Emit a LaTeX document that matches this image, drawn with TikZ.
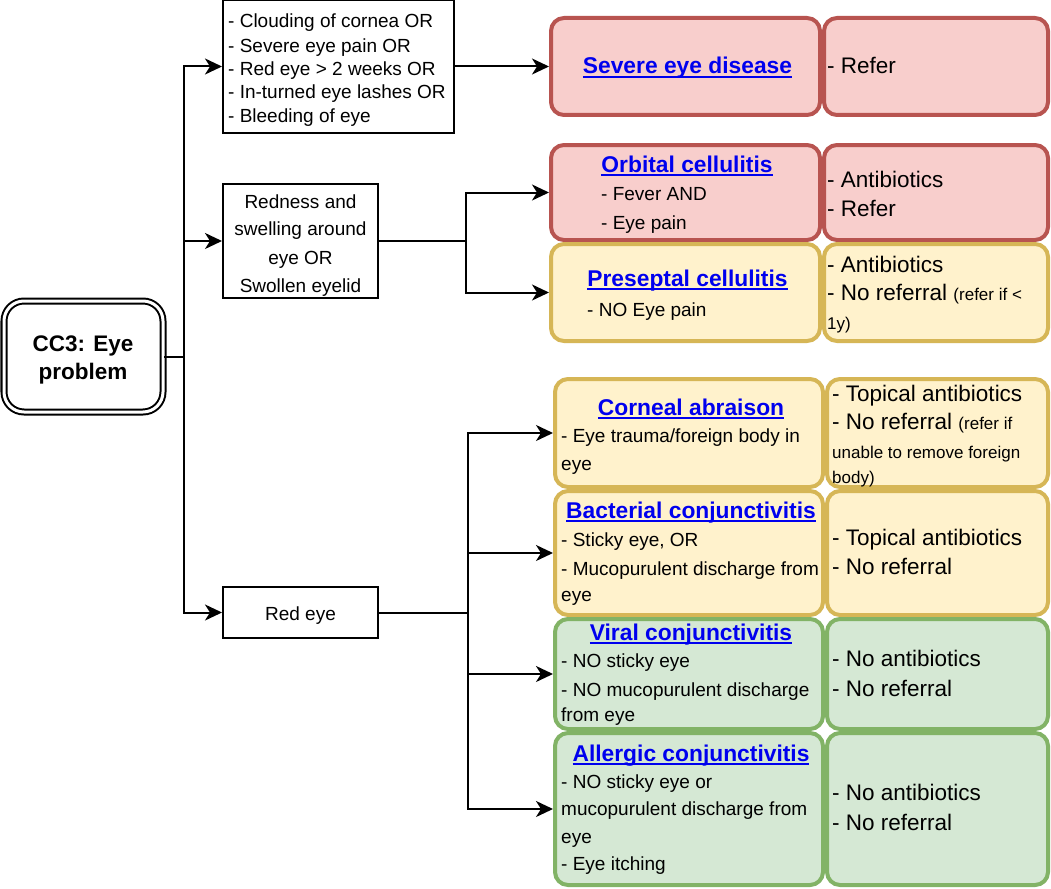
\documentclass[tikz,border=0pt]{standalone}
\usepackage{fontspec}
\setmainfont{Liberation Sans}
\usetikzlibrary{arrows.meta,fit}

\definecolor{redF}{HTML}{F8CECC}
\definecolor{redS}{HTML}{B85450}
\definecolor{yelF}{HTML}{FFF2CC}
\definecolor{yelS}{HTML}{D6B656}
\definecolor{grnF}{HTML}{D5E8D4}
\definecolor{grnS}{HTML}{82B366}
\definecolor{linkblue}{HTML}{0000EE}

% underlined link-style heading
\newcommand\lnk[1]{{\setbox0\hbox{#1}\rlap{\rule[-3.7pt]{\wd0}{2pt}}\box0}}
\newcommand\smalltxt{\fontsize{17}{20}\selectfont}

\tikzset{
  cellbox/.style={draw, line width=4pt, rounded corners=13pt, inner sep=0pt},
  redc/.style={cellbox, draw=redS, fill=redF},
  yelc/.style={cellbox, draw=yelS, fill=yelF},
  grnc/.style={cellbox, draw=grnS, fill=grnF},
  plainbox/.style={draw, line width=2pt, inner sep=0pt, fill=white},
  conn/.style={line width=2pt},
  arr/.style={conn, -{Stealth[length=17pt,width=16pt,inset=5pt]}},
  ttl/.style={font=\fontsize{22.8}{27}\selectfont\bfseries, text=linkblue, inner sep=0pt, anchor=base},
  body/.style={font=\fontsize{19}{23}\selectfont, inner sep=0pt, anchor=base west},
  cbody/.style={font=\fontsize{19}{23}\selectfont, inner sep=0pt, anchor=base},
  rbody/.style={font=\fontsize{22.5}{27}\selectfont, inner sep=0pt, anchor=base west},
}

\begin{document}
\begin{tikzpicture}[x=1pt, y=-1pt]
\useasboundingbox[fill=white] (0,0) rectangle (1051,888);

% ---- start node ----
\node[draw, double, line width=2pt, double distance=3pt, rounded corners=20pt,
      inner sep=0pt, fill=white, fit={(4,301) (163,412)}] (cc3) {};
\node[font=\fontsize{22.5}{27}\selectfont\bfseries, inner sep=0pt, anchor=base] (cc3a) at (83,351) {CC3: Eye};
\node[font=\fontsize{22.5}{27}\selectfont\bfseries, inner sep=0pt, anchor=base] (cc3b) at (83,379) {problem};

% ---- criteria boxes ----
\node[plainbox, fit={(223,0) (454,133)}] (crit1) {};
\node[body] (c1a) at (228,28) {- Clouding of cornea OR};
\node[body] (c1b) at (228,53) {- Severe eye pain OR};
\node[body] (c1c) at (228,76) {- Red eye > 2 weeks OR};
\node[body] (c1d) at (228,99) {- In-turned eye lashes OR};
\node[body] (c1e) at (228,122) {- Bleeding of eye};

\node[plainbox, fit={(223,184) (378,298)}] (crit2) {};
\node[cbody] (c2a) at (300.5,208) {Redness and};
\node[cbody] (c2b) at (300.5,235) {swelling around};
\node[cbody] (c2c) at (300.5,264) {eye OR};
\node[cbody] (c2d) at (300.5,292) {Swollen eyelid};

\node[plainbox, fit={(223,587) (378,638)}] (crit3) {};
\node[cbody] (c3a) at (300.5,620) {Red eye};

% ---- classification cells ----
\node[redc, fit={(551,18) (820,115)}] (sevL) {};
\node[redc, fit={(824,18) (1048,115)}] (sevR) {};
\node[ttl] (sevT) at (687.5,74) {\lnk{Severe eye disease}};
\node[rbody] (sevR1) at (827,74) {- Refer};

\node[redc, fit={(551,145) (820,240)}] (orbL) {};
\node[redc, fit={(824,145) (1048,240)}] (orbR) {};
\node[ttl] (orbT) at (687,172.5) {\lnk{Orbital cellulitis}};
\node[body] (orb1) at (601,200) {- Fever AND};
\node[body] (orb2) at (601,229) {- Eye pain};
\node[rbody] (orbR1) at (827,187) {- Antibiotics};
\node[rbody] (orbR2) at (827,216) {- Refer};

\node[yelc, fit={(551,244) (820,341)}] (preL) {};
\node[yelc, fit={(824,244) (1048,341)}] (preR) {};
\node[ttl] (preT) at (687.5,286.5) {\lnk{Preseptal cellulitis}};
\node[body] (pre1) at (587,316) {- NO Eye pain};
\node[rbody] (preR1) at (827,272.5) {- Antibiotics};
\node[rbody] (preR2) at (827,300) {- No referral {\smalltxt(refer if <}};
\node[rbody] (preR3) at (827,329) {\smalltxt 1y)};

\node[yelc, fit={(555,379) (823,487)}] (corL) {};
\node[yelc, fit={(827,379) (1048,487)}] (corR) {};
\node[ttl] (corT) at (691,415) {\lnk{Corneal abraison}};
\node[body] (cor1) at (561,442.5) {- Eye trauma/foreign body in};
\node[body] (cor2) at (561,470) {eye};
\node[rbody] (corR1) at (832,401.5) {- Topical antibiotics};
\node[rbody] (corR2) at (832,429) {- No referral {\smalltxt(refer if}};
\node[rbody] (corR3) at (832,458) {\smalltxt unable to remove foreign};
\node[rbody] (corR4) at (832,483) {\smalltxt body)};

\node[yelc, fit={(555,491) (823,615)}] (bacL) {};
\node[yelc, fit={(827,491) (1048,615)}] (bacR) {};
\node[ttl] (bacT) at (691,518) {\lnk{Bacterial conjunctivitis}};
\node[body] (bac1) at (561,546) {- Sticky eye, OR};
\node[body] (bac2) at (561,575) {- Mucopurulent discharge from};
\node[body] (bac3) at (561,601.5) {eye};
\node[rbody] (bacR1) at (832,545.5) {- Topical antibiotics};
\node[rbody] (bacR2) at (832,574) {- No referral};

\node[grnc, fit={(555,619) (823,729)}] (virL) {};
\node[grnc, fit={(827,619) (1048,729)}] (virR) {};
\node[ttl] (virT) at (691,640.5) {\lnk{Viral conjunctivitis}};
\node[body] (vir1) at (561,667) {- NO sticky eye};
\node[body] (vir2) at (561,696) {- NO mucopurulent discharge};
\node[body] (vir3) at (561,721.5) {from eye};
\node[rbody] (virR1) at (832,666.5) {- No antibiotics};
\node[rbody] (virR2) at (832,696) {- No referral};

\node[grnc, fit={(555,733) (823,885)}] (allL) {};
\node[grnc, fit={(827,733) (1048,885)}] (allR) {};
\node[ttl] (allT) at (691,761.5) {\lnk{Allergic conjunctivitis}};
\node[body] (all1) at (561,788) {- NO sticky eye or};
\node[body] (all2) at (561,815) {mucopurulent discharge from};
\node[body] (all3) at (561,843) {eye};
\node[body] (all4) at (561,870) {- Eye itching};
\node[rbody] (allR1) at (832,800.5) {- No antibiotics};
\node[rbody] (allR2) at (832,830) {- No referral};

% ---- connectors ----
\draw[conn] (cc3.east) -- ++(20,0) coordinate (trunk);
\draw[arr] (trunk) |- (crit1.west);
\draw[arr] (trunk) |- (crit2.west);
\draw[arr] (trunk) |- (crit3.west);

\draw[arr] (crit1.east) -- (sevL.west);

\draw[conn] (crit2.east) -- ++(87,0) coordinate (split2);
\draw[arr] (split2) |- (orbL.west);
\draw[arr] (split2) |- (preL.west);

\draw[conn] (crit3.east) -- ++(89,0) coordinate (split3);
\draw[arr] (split3) |- (corL.west);
\draw[arr] (split3) |- (bacL.west);
\draw[arr] (split3) |- (virL.west);
\draw[arr] (split3) |- (allL.west);
\end{tikzpicture}
\end{document}
